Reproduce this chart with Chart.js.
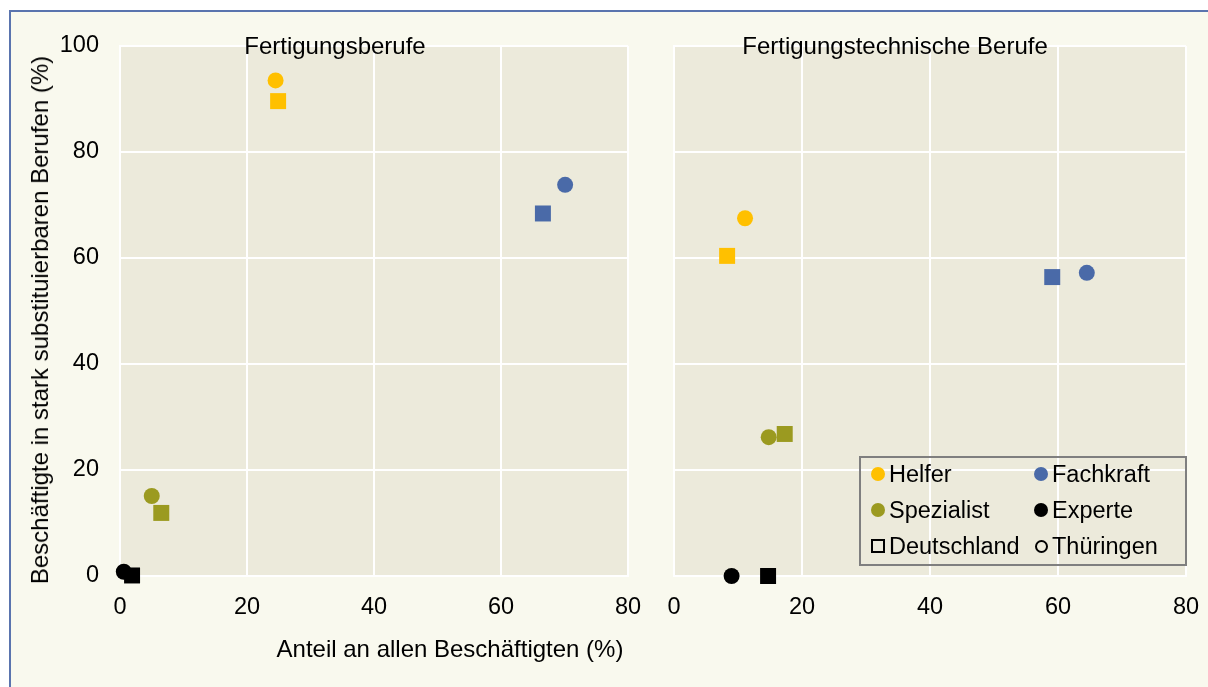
<!DOCTYPE html>
<html>
<head>
<meta charset="utf-8">
<script src="https://cdn.jsdelivr.net/npm/chart.js@4/dist/chart.umd.min.js"></script>
<style>
  html, body { margin:0; padding:0; background:#ffffff; }
  body { width:1208px; height:687px; position:relative; overflow:hidden; font-family:"Liberation Sans", Arial, sans-serif; color:#000; }
  #frame { position:absolute; left:9px; top:10px; width:1400px; height:900px; border:2px solid #5a74ae; background:#f9f9ee; }
  canvas { position:absolute; top:0; }
  .txt { position:absolute; font-size:24px; line-height:24px; white-space:nowrap; transform:translate(-50%,-50%); }
  #ytitle { transform:translate(-50%,-50%) rotate(-90deg); }
  #legend { position:absolute; left:859px; top:456px; width:324px; height:106px; border:2px solid #7f7f7f; }
  .li { position:absolute; font-size:23.5px; line-height:24px; white-space:nowrap; }
  .mk { position:absolute; box-sizing:border-box; }
</style>
</head>
<body>
<div id="frame"></div>
<canvas id="c1" width="652" height="687" style="left:0px;width:652px;height:687px;"></canvas>
<canvas id="c2" width="556" height="687" style="left:652px;width:556px;height:687px;"></canvas>
<div class="txt" id="t1" style="left:335px;top:46px;"></div>
<div class="txt" id="t2" style="left:895px;top:46px;"></div>
<div class="txt" id="xtitle" style="left:450px;top:649px;">Anteil an allen Beschäftigten (%)</div>
<div class="txt" id="ytitle" style="left:40px;top:320px;">Beschäftigte in stark substituierbaren Berufen (%)</div>
<div id="legend"></div>
<script>
// ---- data ----
const categories = ['Helfer', 'Fachkraft', 'Spezialist', 'Experte'];
const regions = ['Deutschland', 'Thüringen'];
const panelTitles = ['Fertigungsberufe', 'Fertigungstechnische Berufe'];
const xTickValues = [0, 20, 40, 60, 80];
const yTickValues = [0, 20, 40, 60, 80, 100];

// Fertigungsberufe
const fbDeutschlandX = [24.9, 66.6, 6.5, 1.9];
const fbDeutschlandY = [89.6, 68.4, 11.9, 0.1];
const fbThueringenX  = [24.5, 70.1, 5.0, 0.6];
const fbThueringenY  = [93.5, 73.8, 15.1, 0.8];
// Fertigungstechnische Berufe
const ftDeutschlandX = [8.3, 59.1, 17.3, 14.7];
const ftDeutschlandY = [60.4, 56.4, 26.8, 0.0];
const ftThueringenX  = [11.1, 64.5, 14.8, 9.0];
const ftThueringenY  = [67.5, 57.2, 26.2, 0.0];

const catColors = ['#ffc000', '#4a6aa8', '#9b9a20', '#000000'];
const FONT = '"Liberation Sans", Arial, sans-serif';

function makeDatasets(deX, deY, thX, thY) {
  const ds = [];
  // squares (Deutschland) first so they are drawn on top
  categories.forEach((c, i) => {
    ds.push({ label: c + ' ' + regions[0], data: [{x: deX[i], y: deY[i]}],
      pointStyle: 'rect', pointRadius: 11.3, backgroundColor: catColors[i], borderWidth: 0, clip: false });
  });
  categories.forEach((c, i) => {
    ds.push({ label: c + ' ' + regions[1], data: [{x: thX[i], y: thY[i]}],
      pointStyle: 'circle', pointRadius: 8, backgroundColor: catColors[i], borderWidth: 0, clip: false });
  });
  return ds;
}

const plotBg = { id: 'plotBg', beforeDraw(chart) {
  const a = chart.chartArea, ctx = chart.ctx;
  ctx.save(); ctx.fillStyle = '#eceadb';
  ctx.fillRect(a.left, a.top, a.right - a.left, a.bottom - a.top);
  ctx.restore();
}};

function zeroPad(s) { s.paddingLeft = 0; s.paddingRight = 0; s.paddingTop = 0; s.paddingBottom = 0; }

function makeOptions(showY, yWidth, padRight) {
  return {
    responsive: false, animation: false, devicePixelRatio: 1,
    layout: { padding: { left: 0, top: 46, right: padRight, bottom: 0 } },
    plugins: { legend: { display: false }, tooltip: { enabled: false } },
    scales: {
      x: { type: 'linear', min: 0, max: 80,
        afterBuildTicks: s => { s.ticks = xTickValues.map(v => ({ value: v })); },
        afterFit: s => { s.height = 111; zeroPad(s); },
        ticks: { padding: 17, color: '#000', font: { family: FONT, size: 23.5 } },
        grid: { color: '#ffffff', lineWidth: 2, drawTicks: false },
        border: { color: '#ffffff', width: 2 } },
      y: { type: 'linear', min: 0, max: 100,
        afterBuildTicks: s => { s.ticks = yTickValues.map(v => ({ value: v })); },
        afterFit: s => { s.width = yWidth; zeroPad(s); },
        ticks: { display: showY, padding: 21, color: '#000', font: { family: FONT, size: 23.5 } },
        grid: { color: '#ffffff', lineWidth: 2, drawTicks: false },
        border: { color: '#ffffff', width: 2 } }
    }
  };
}

new Chart(document.getElementById('c1'), {
  type: 'scatter',
  data: { datasets: makeDatasets(fbDeutschlandX, fbDeutschlandY, fbThueringenX, fbThueringenY) },
  options: makeOptions(true, 120, 24),
  plugins: [plotBg]
});
new Chart(document.getElementById('c2'), {
  type: 'scatter',
  data: { datasets: makeDatasets(ftDeutschlandX, ftDeutschlandY, ftThueringenX, ftThueringenY) },
  options: makeOptions(false, 22, 22),
  plugins: [plotBg]
});

document.getElementById('t1').textContent = panelTitles[0];
document.getElementById('t2').textContent = panelTitles[1];

// ---- legend (HTML) ----
const legend = document.getElementById('legend');
const legendItems = [
  { text: categories[0], type: 'dot', color: catColors[0] },
  { text: categories[1], type: 'dot', color: catColors[1] },
  { text: categories[2], type: 'dot', color: catColors[2] },
  { text: categories[3], type: 'dot', color: catColors[3] },
  { text: regions[0], type: 'sq' },
  { text: regions[1], type: 'ring' }
];
const colX = [17, 180];   // marker centre, relative to legend box
const rowY = [15.5, 52, 88];
legendItems.forEach((it, i) => {
  const col = i % 2, row = Math.floor(i / 2);
  const m = document.createElement('div'); m.className = 'mk';
  const cx = colX[col], cy = rowY[row];
  if (it.type === 'dot') {
    Object.assign(m.style, { left: (cx - 7) + 'px', top: (cy - 7) + 'px', width: '14px', height: '14px', borderRadius: '50%', background: it.color });
  } else if (it.type === 'sq') {
    Object.assign(m.style, { left: (cx - 7) + 'px', top: (cy - 7) + 'px', width: '14px', height: '14px', border: '2px solid #000' });
  } else {
    Object.assign(m.style, { left: (cx - 6.5) + 'px', top: (cy - 6.5) + 'px', width: '13px', height: '13px', borderRadius: '50%', border: '2px solid #000' });
  }
  legend.appendChild(m);
  const t = document.createElement('div'); t.className = 'li';
  t.textContent = it.text;
  t.style.left = (cx + 11) + 'px';
  t.style.top = (cy - 12) + 'px';
  legend.appendChild(t);
});
</script>
</body>
</html>
